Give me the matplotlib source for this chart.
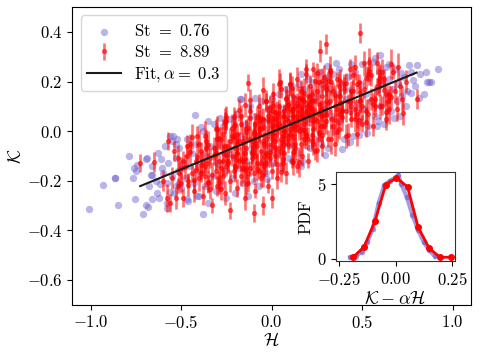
import matplotlib
matplotlib.use("Agg")
import matplotlib.pyplot as plt
import numpy as np

plt.rcParams.update({
    "font.family": "serif",
    "font.serif": ["cmr10"],
    "mathtext.fontset": "cm",
    "axes.formatter.use_mathtext": True,
    "axes.unicode_minus": True,
    "font.size": 12,
})

# ---- St = 0.76 (blue scatter) ----
blue_H = [
    -1.01, -0.93, -0.864, -0.85, -0.787, -0.754, -0.768, -0.76, -0.75, -0.708,
    -0.695, -0.685, -0.662, -0.695, -0.666, -0.634, -0.616, -0.61, -0.607, -0.58,
    -0.578, -0.56, -0.55, -0.524, -0.469, -0.40, -0.377, -0.426, -0.53, -0.51,
    0.921, 0.87, 0.86, 0.816, 0.77, 0.76, 0.80, 0.78, 0.72, 0.74,
    0.715, 0.675, 0.647, 0.60, 0.57, 0.58, 0.585, 0.527, 0.48, 0.43,
    0.386, 0.353, 0.44, 0.305, 0.164, 0.292, 0.164, -0.167, -0.094, -0.026,
    0.11, -0.69, -0.746, -0.66, -0.866, -0.176, -0.287, -0.35, -0.39, -0.545,
    -0.53,
    -0.68, -0.66, -0.64, -0.63, -0.62, -0.60, -0.59, -0.58, -0.57, -0.56,
    -0.55, -0.54, -0.53, -0.52, -0.51, -0.50, -0.49, -0.48, -0.47, -0.46,
    -0.45, -0.44, -0.43, -0.42, -0.41, -0.40, -0.39, -0.38, -0.37, -0.36,
    -0.35, -0.34, -0.33, -0.32, -0.31, -0.30, -0.29, -0.28, -0.27, -0.26,
    -0.25, -0.24, -0.23, -0.22, -0.21, -0.20, -0.19, -0.18, -0.17, -0.16,
    -0.15, -0.14, -0.13, -0.12, -0.11, -0.10, -0.09, -0.08, -0.07, -0.06,
    -0.05, -0.04, -0.03, -0.02, -0.01, 0.00, 0.01, 0.02, 0.03, 0.04,
    0.05, 0.06, 0.07, 0.08, 0.09, 0.10, 0.11, 0.12, 0.13, 0.14,
    0.15, 0.16, 0.17, 0.18, 0.19, 0.20, 0.21, 0.22, 0.23, 0.24,
    0.25, 0.26, 0.27, 0.28, 0.29, 0.30, 0.31, 0.32, 0.33, 0.34,
    0.35, 0.36, 0.37, 0.38, 0.39, 0.40, 0.41, 0.42, 0.43, 0.44,
    0.45, 0.46, 0.47, 0.48, 0.49, 0.50, 0.51, 0.52, 0.53, 0.54,
    0.55, 0.56, 0.57, 0.58, 0.59, 0.60, 0.61, 0.62, 0.63, 0.64,
    0.65, 0.66, 0.67, 0.68, 0.69, 0.70, 0.71, 0.73, 0.75, 0.77,
    0.79, 0.82, 0.84, 0.85, 0.88,
]
blue_K = [
    -0.316, -0.219, -0.191, -0.30, -0.10, -0.273, -0.188, -0.149, -0.16, -0.333,
    -0.30, -0.305, -0.272, -0.111, -0.179, -0.249, -0.215, -0.114, -0.148, -0.29,
    -0.31, -0.246, -0.04, -0.03, -0.275, -0.262, -0.336, 0.065, -0.22, -0.21,
    0.252, 0.198, 0.198, 0.135, 0.155, 0.265, 0.265, 0.206, 0.14, 0.10,
    0.233, 0.051, 0.269, 0.306, 0.295, 0.02, 0.04, -0.006, -0.016, -0.044,
    -0.074, 0.276, 0.269, 0.262, 0.229, -0.098, -0.141, 0.128, 0.135, -0.192,
    -0.12, -0.11, -0.138, -0.175, -0.188, 0.128, 0.054, 0.04, 0.015, -0.02,
    -0.05,
    -0.22, -0.14, -0.20, -0.09, -0.27, -0.17, -0.06, -0.21, -0.13, -0.02,
    -0.18, -0.25, -0.11, -0.16, -0.07, -0.23, -0.13, -0.19, -0.03, -0.28,
    -0.14, -0.09, -0.21, -0.05, -0.26, -0.12, -0.17, 0.00, -0.22, -0.10,
    -0.29, -0.06, -0.18, 0.03, -0.24, -0.13, -0.05, -0.22, 0.02, -0.16,
    -0.27, -0.09, 0.05, -0.19, -0.11, -0.25, 0.07, -0.15, -0.02, -0.21,
    0.03, -0.12, -0.26, 0.10, -0.08, -0.20, 0.06, -0.03, -0.22, 0.12,
    -0.12, 0.04, -0.17, 0.09, -0.07, 0.13, -0.13, 0.02, -0.09, 0.15,
    -0.15, 0.09, -0.05, 0.17, -0.11, 0.05, 0.18, -0.06, 0.13, -0.09,
    0.19, 0.01, -0.12, 0.17, 0.05, 0.21, -0.07, 0.12, 0.20, -0.03,
    0.14, 0.24, -0.05, 0.19, 0.09, 0.22, -0.07, 0.17, 0.06, 0.23,
    0.00, 0.15, 0.25, 0.04, 0.19, -0.03, 0.13, 0.22, 0.08, 0.17,
    -0.02, 0.24, 0.11, 0.04, 0.19, 0.27, 0.09, 0.15, 0.02, 0.22,
    0.12, 0.28, 0.06, 0.16, 0.24, 0.10, 0.19, 0.03, 0.26, 0.14,
    0.21, 0.08, 0.17, 0.25, 0.12, 0.19, 0.06, 0.22, 0.16, 0.24,
    0.18, 0.23, 0.15, 0.24, 0.20,
]

# ---- St = 8.89 (red points with error bars) ----
red_H = [
    -0.56, -0.54, -0.52, -0.50, -0.49, -0.47, -0.46, -0.45, -0.44, -0.43,
    -0.42, -0.41, -0.40, -0.39, -0.38, -0.37, -0.36, -0.35, -0.34, -0.33,
    -0.32, -0.31, -0.30, -0.30, -0.29, -0.28, -0.27, -0.27, -0.26, -0.25,
    -0.25, -0.24, -0.23, -0.23, -0.22, -0.21, -0.21, -0.20, -0.19, -0.19,
    -0.18, -0.17, -0.17, -0.16, -0.15, -0.15, -0.14, -0.14, -0.13, -0.12,
    -0.12, -0.11, -0.10, -0.10, -0.09, -0.09, -0.08, -0.07, -0.07, -0.06,
    -0.06, -0.05, -0.05, -0.04, -0.03, -0.03, -0.02, -0.02, -0.01, -0.01,
    0.00, 0.00, 0.00, 0.01, 0.01, 0.02, 0.02, 0.03, 0.03, 0.04,
    0.04, 0.05, 0.05, 0.06, 0.06, 0.07, 0.07, 0.08, 0.08, 0.09,
    0.09, 0.10, 0.10, 0.11, 0.11, 0.12, 0.12, 0.13, 0.13, 0.14,
    0.14, 0.15, 0.15, 0.16, 0.16, 0.17, 0.17, 0.18, 0.18, 0.19,
    0.19, 0.20, 0.20, 0.21, 0.21, 0.22, 0.22, 0.23, 0.23, 0.24,
    0.24, 0.25, 0.25, 0.26, 0.26, 0.27, 0.28, 0.28, 0.29, 0.30,
    0.30, 0.31, 0.32, 0.32, 0.33, 0.34, 0.35, 0.35, 0.36, 0.37,
    0.38, 0.39, 0.40, 0.41, 0.42, 0.43, 0.44, 0.45, 0.46, 0.47,
    0.48, 0.49, 0.50, 0.51, 0.52, 0.53, 0.55, 0.56, 0.58, 0.60,
    0.62, 0.63, 0.65, 0.67, 0.69, 0.71, -0.28, -0.26, -0.24, -0.22,
    -0.20, -0.18, -0.16, -0.14, -0.12, -0.10, -0.08, -0.06, -0.04, -0.02,
    0.00, 0.02, 0.04, 0.06, 0.08, 0.10, 0.12, 0.14, 0.16, 0.18,
    0.20, 0.22, 0.24, 0.26, 0.28, 0.30, -0.35, -0.31, -0.29, -0.19,
    -0.11, -0.09, -0.07, -0.03, 0.01, 0.03, 0.05, 0.07, 0.09, 0.11,
    0.13, 0.15, 0.17, 0.19, 0.21, 0.23, -0.726, -0.649, -0.574, -0.60,
    -0.13, 0.044, 0.188, 0.268, 0.30, 0.489, 0.724, 0.80, -0.10, -0.05,
    0.00,
    -0.45, -0.33, -0.21, -0.09, 0.03, 0.15, 0.27, 0.39, 0.51, 0.63,
    -0.43, -0.31, -0.19, -0.07, 0.05, 0.17, 0.29, 0.41, 0.53, 0.02,
    -0.41, -0.29, -0.17, -0.05, 0.07, 0.19, 0.31, 0.43, 0.55, -0.02,
    -0.39, -0.27, -0.15, -0.03, 0.09, 0.21, 0.33, 0.45, 0.57, 0.10,
    -0.37, -0.25, -0.13, -0.01, 0.11, 0.23, 0.35, 0.47, 0.59, -0.08,
    -0.35, -0.23, -0.11, 0.01, 0.13, 0.25, 0.37, 0.49, 0.61, 0.18,
    -0.44, -0.32, -0.20, -0.08, 0.04, 0.16, 0.28, 0.40, 0.52, -0.14,
    -0.42, -0.30, -0.18, -0.06, 0.06, 0.18, 0.30, 0.42, 0.54, 0.00,
    -0.40, -0.28, -0.16, -0.04, 0.08, 0.20, 0.32, 0.44, 0.56, 0.12,
    -0.38, -0.26, -0.14, -0.02, 0.10, 0.22, 0.34, 0.46, 0.58, -0.20,
    -0.36, -0.24, -0.12, 0.00, 0.12, 0.24, 0.36, 0.48, 0.60, 0.26,
    -0.34, -0.22, -0.10, 0.02, 0.14, 0.26, 0.38, 0.50, 0.62, -0.26,
    -0.48, -0.12, -0.04, 0.04, 0.12, 0.20, 0.28, 0.36, 0.44, 0.52,
    -0.46, -0.16, -0.06, 0.06, 0.14, 0.22, 0.30, 0.38, 0.46, 0.66,
    -0.05, 0.05, -0.15, 0.15, -0.25, 0.25, -0.35, 0.35, -0.01, 0.09,
    -0.11, 0.19, -0.21, 0.29, -0.31, 0.39, 0.07, -0.03, 0.13, 0.33,
    -0.07, 0.03, 0.11, -0.17, 0.23, -0.27, 0.31, 0.41, -0.37, 0.49,
    0.08, -0.09, 0.17, -0.19, 0.27, -0.29, 0.37, -0.39, 0.47, -0.13,
    0.64, 0.66, 0.68, 0.70, 0.72, 0.74, -0.50, -0.52, -0.55, -0.58,
    0.54, 0.57, 0.61, 0.65, -0.47, -0.49, -0.51, -0.53, 0.59, 0.63,
]
red_K = [
    -0.29, -0.08, -0.22, -0.15, -0.27, -0.10, -0.20, -0.05, -0.17, -0.24,
    -0.12, -0.02, -0.19, -0.08, -0.26, -0.14, -0.04, -0.21, -0.11, -0.30,
    -0.07, -0.16, 0.01, -0.22, -0.12, -0.03, -0.18, -0.09, -0.25, 0.04,
    -0.14, -0.06, -0.20, -0.32, -0.10, 0.02, -0.16, -0.07, -0.23, -0.01,
    -0.12, 0.06, -0.18, -0.05, -0.27, -0.09, 0.01, -0.15, -0.21, -0.03,
    0.08, -0.11, -0.17, -0.06, 0.03, -0.24, -0.13, -0.01, 0.10, -0.08,
    -0.19, 0.05, -0.04, -0.14, 0.12, -0.09, -0.02, -0.22, 0.04, -0.11,
    0.08, -0.05, -0.16, 0.15, -0.01, -0.10, 0.05, -0.19, 0.01, 0.10,
    -0.07, 0.17, -0.03, -0.13, 0.06, 0.00, -0.09, 0.13, -0.17, 0.04,
    -0.05, 0.09, 0.19, -0.02, -0.12, 0.06, 0.14, -0.07, 0.02, 0.21,
    -0.14, 0.10, 0.00, 0.16, -0.05, 0.07, -0.10, 0.12, 0.03, 0.23,
    -0.02, 0.14, -0.12, 0.06, 0.18, -0.04, 0.09, 0.01, 0.25, 0.12,
    -0.08, 0.16, 0.04, -0.01, 0.20, 0.09, -0.06, 0.14, 0.02, 0.18,
    0.07, -0.03, 0.12, 0.24, 0.05, 0.16, -0.05, 0.10, 0.21, 0.01,
    0.14, 0.08, 0.19, -0.02, 0.12, 0.25, 0.05, 0.16, 0.09, -0.01,
    0.20, 0.12, 0.03, 0.17, 0.08, 0.23, 0.13, 0.02, 0.18, 0.10,
    0.21, 0.05, 0.15, 0.24, 0.09, 0.18, -0.15, -0.06, -0.13, -0.02,
    -0.14, -0.04, -0.12, -0.07, -0.15, 0.00, -0.06, 0.01, -0.05, 0.06,
    -0.01, -0.04, 0.03, -0.02, 0.05, 0.01, 0.09, 0.04, 0.08, -0.03,
    0.07, 0.15, 0.05, 0.11, 0.06, 0.12, -0.13, -0.09, -0.19, -0.09,
    -0.04, -0.10, -0.16, -0.03, 0.03, 0.07, 0.02, 0.08, 0.11, 0.03,
    0.10, 0.05, 0.13, 0.08, 0.11, 0.07, -0.128, -0.125, -0.04, -0.20,
    0.195, 0.199, 0.249, 0.323, 0.35, 0.397, 0.074, 0.13, -0.33, -0.30,
    -0.27,
    -0.085, -0.179, 0.057, -0.047, -0.131, 0.135, 0.081, 0.057, 0.273, 0.079,
    -0.199, 0.007, -0.087, 0.039, -0.085, 0.061, 0.217, 0.083, 0.069, 0.076,
    -0.103, -0.207, 0.029, -0.175, 0.061, -0.013, 0.203, 0.119, 0.225, -0.096,
    -0.167, -0.011, -0.155, 0.121, -0.033, 0.093, -0.031, 0.225, 0.131, 0.19,
    -0.021, -0.095, 0.011, -0.083, 0.173, -0.051, 0.145, 0.071, 0.197, -0.154,
    -0.205, -0.039, -0.093, 0.103, 0.009, -0.075, 0.181, 0.157, 0.103, 0.004,
    -0.022, -0.096, -0.15, 0.056, 0.192, 0.008, -0.016, 0.17, 0.036, -0.002,
    -0.156, -0.03, 0.086, -0.128, -0.052, 0.154, 0.04, -0.014, 0.242, 0.02,
    -0.05, -0.234, -0.038, 0.018, 0.134, -0.03, 0.246, 0.162, 0.108, 0.026,
    -0.124, 0.042, -0.212, 0.044, -0.01, 0.126, 0.022, 0.258, 0.274, 0.03,
    -0.068, -0.122, 0.054, -0.03, -0.084, 0.202, 0.088, 0.044, 0.22, -0.002,
    -0.232, 0.014, -0.01, -0.064, 0.112, 0.068, 0.204, 0.1, 0.166, 0.032,
    -0.144, 0.124, -0.102, 0.072, -0.124, 0.1, 0.204, -0.002, 0.102, 0.216,
    -0.218, -0.148, 0.052, -0.112, 0.062, -0.014, 0.17, 0.114, 0.048, 0.138,
    0.165, -0.165, 0.105, -0.125, 0.055, 0.235, -0.055, 0.045, 0.097, 0.107,
    -0.083, 0.077, -0.023, 0.067, -0.093, 0.087, 0.001, -0.129, -0.051, 0.199,
    0.009, 0.019, 0.083, -0.111, 0.039, -0.121, 0.113, 0.193, -0.181, 0.127,
    -0.016, -0.007, 0.131, -0.047, 0.021, -0.027, 0.071, -0.137, 0.191, -0.169,
    0.12, 0.27, 0.16, 0.26, 0.13, 0.20, -0.21, -0.11, -0.19, -0.27,
    0.28, 0.10, 0.24, 0.09, -0.06, -0.12, -0.17, -0.27, 0.21, 0.15,
]
red_err = [
    0.035, 0.040, 0.030, 0.045, 0.035, 0.050, 0.030, 0.040, 0.035, 0.045,
    0.030, 0.040, 0.050, 0.035, 0.040, 0.030, 0.045, 0.035, 0.040, 0.030,
    0.045, 0.035, 0.050, 0.040, 0.030, 0.045, 0.035, 0.040, 0.050, 0.035,
    0.040, 0.030, 0.045, 0.035, 0.040, 0.050, 0.030, 0.045, 0.035, 0.040,
    0.030, 0.045, 0.040, 0.035, 0.050, 0.030, 0.040, 0.045, 0.035, 0.040,
    0.030, 0.050, 0.035, 0.040, 0.045, 0.030, 0.040, 0.035, 0.050, 0.040,
    0.035, 0.045, 0.030, 0.040, 0.035, 0.050, 0.040, 0.030, 0.045, 0.035,
    0.040, 0.050, 0.035, 0.045, 0.030, 0.040, 0.035, 0.045, 0.050, 0.030,
    0.040, 0.035, 0.045, 0.040, 0.030, 0.050, 0.035, 0.040, 0.045, 0.030,
    0.040, 0.035, 0.050, 0.045, 0.030, 0.040, 0.035, 0.045, 0.040, 0.050,
    0.030, 0.040, 0.035, 0.045, 0.050, 0.030, 0.040, 0.035, 0.045, 0.040,
    0.035, 0.050, 0.030, 0.040, 0.045, 0.035, 0.040, 0.050, 0.030, 0.045,
    0.035, 0.040, 0.045, 0.030, 0.050, 0.035, 0.040, 0.045, 0.030, 0.040,
    0.050, 0.035, 0.045, 0.030, 0.040, 0.035, 0.050, 0.045, 0.030, 0.040,
    0.035, 0.045, 0.040, 0.050, 0.030, 0.040, 0.035, 0.045, 0.040, 0.050,
    0.030, 0.045, 0.035, 0.040, 0.050, 0.030, 0.045, 0.040, 0.035, 0.050,
    0.040, 0.045, 0.035, 0.030, 0.050, 0.040, 0.035, 0.045, 0.040, 0.030,
    0.050, 0.035, 0.040, 0.045, 0.030, 0.040, 0.050, 0.035, 0.045, 0.040,
    0.030, 0.045, 0.040, 0.035, 0.050, 0.030, 0.040, 0.045, 0.035, 0.040,
    0.050, 0.030, 0.045, 0.040, 0.035, 0.045, 0.040, 0.030, 0.050, 0.035,
    0.040, 0.045, 0.030, 0.040, 0.035, 0.050, 0.045, 0.030, 0.040, 0.035,
    0.045, 0.040, 0.050, 0.030, 0.040, 0.035, 0.035, 0.040, 0.035, 0.040,
    0.035, 0.035, 0.040, 0.045, 0.040, 0.040, 0.050, 0.040, 0.035, 0.040,
    0.040,
    0.045, 0.055, 0.040, 0.050, 0.060, 0.045, 0.040, 0.055, 0.050, 0.045,
    0.050, 0.040, 0.060, 0.045, 0.055, 0.040, 0.050, 0.045, 0.060, 0.040,
    0.055, 0.045, 0.040, 0.050, 0.045, 0.060, 0.040, 0.055, 0.045, 0.050,
    0.040, 0.060, 0.050, 0.045, 0.040, 0.055, 0.060, 0.040, 0.050, 0.045,
    0.060, 0.045, 0.055, 0.040, 0.050, 0.045, 0.040, 0.060, 0.055, 0.045,
    0.045, 0.050, 0.040, 0.060, 0.045, 0.050, 0.055, 0.045, 0.040, 0.060,
    0.050, 0.040, 0.055, 0.045, 0.060, 0.040, 0.045, 0.050, 0.060, 0.045,
    0.040, 0.055, 0.045, 0.050, 0.040, 0.060, 0.050, 0.045, 0.055, 0.040,
    0.055, 0.045, 0.060, 0.040, 0.050, 0.045, 0.055, 0.040, 0.045, 0.060,
    0.045, 0.050, 0.040, 0.055, 0.060, 0.045, 0.040, 0.050, 0.045, 0.055,
    0.060, 0.040, 0.050, 0.045, 0.055, 0.040, 0.060, 0.045, 0.050, 0.040,
    0.040, 0.055, 0.045, 0.060, 0.040, 0.050, 0.045, 0.055, 0.060, 0.045,
    0.050, 0.045, 0.060, 0.040, 0.055, 0.045, 0.050, 0.040, 0.060, 0.045,
    0.045, 0.060, 0.040, 0.050, 0.045, 0.055, 0.040, 0.060, 0.050, 0.045,
    0.055, 0.040, 0.050, 0.060, 0.045, 0.040, 0.055, 0.045, 0.050, 0.060,
    0.040, 0.050, 0.045, 0.055, 0.060, 0.040, 0.045, 0.050, 0.040, 0.055,
    0.060, 0.045, 0.040, 0.050, 0.045, 0.060, 0.055, 0.040, 0.045, 0.050,
    0.045, 0.055, 0.050, 0.040, 0.060, 0.045, 0.050, 0.055, 0.040, 0.045,
    0.050, 0.060, 0.045, 0.055, 0.050, 0.045, 0.040, 0.050, 0.045, 0.055,
    0.055, 0.045, 0.050, 0.060, 0.045, 0.040, 0.050, 0.045, 0.055, 0.050,
]

alpha_fit = 0.3
fit_intercept = -0.004

# ---- inset PDFs ----
pdf_blue_x = [-0.20, -0.175, -0.15, -0.125, -0.10, -0.075, -0.05, -0.025, 0.0,
              0.0125, 0.025, 0.05, 0.075, 0.10, 0.125, 0.15, 0.175]
pdf_blue_y = [0.1, 0.2, 0.45, 1.1, 2.0, 3.7, 4.9, 5.2, 5.4, 5.6, 5.0, 4.1, 2.9,
              1.9, 1.1, 0.55, 0.15]
pdf_red_x = [-0.187, -0.139, -0.091, -0.043, 0.004, 0.053, 0.100, 0.149, 0.196, 0.245]
pdf_red_y = [0.1, 0.8, 2.5, 4.95, 5.4, 4.8, 2.1, 0.7, 0.1, 0.1]

assert len(blue_H) == len(blue_K)
assert len(red_H) == len(red_K) == len(red_err), (len(red_H), len(red_K), len(red_err))

fig = plt.figure(figsize=(4.8, 3.58), dpi=100)
ax = fig.add_axes([0.151, 0.149, 0.830, 0.831])

h_blue = ax.scatter(blue_H, blue_K, s=28, color="slateblue", alpha=0.45,
                    linewidths=0, zorder=2)
h_red = ax.errorbar(red_H, red_K, yerr=red_err, fmt="o", color="red",
                    markersize=2.8, elinewidth=1.9, alpha=0.55, zorder=3)
xf = np.linspace(min(red_H), max(red_H), 50)
h_fit, = ax.plot(xf, alpha_fit * xf + fit_intercept, color="#1a1a1a", lw=1.5,
                 zorder=4)

ax.set_xlim(-1.1, 1.1)
ax.set_ylim(-0.7, 0.5)
ax.set_xticks([-1.0, -0.5, 0.0, 0.5, 1.0])
ax.set_yticks([-0.6, -0.4, -0.2, 0.0, 0.2, 0.4])
ax.set_xlabel(r"$\mathcal{H}$", fontsize=13, labelpad=0)
ax.set_ylabel(r"$\mathcal{K}$", fontsize=13, labelpad=2)
ax.tick_params(labelsize=12)
ax.legend([h_blue, h_red, h_fit],
          [r"St $=$ 0.76", r"St $=$ 8.89", r"$\mathrm{Fit}, \alpha =\ 0.3$"],
          loc="upper left", fontsize=12, handlelength=2.0, borderpad=0.4,
          labelspacing=0.3)

ins = fig.add_axes([0.700, 0.271, 0.248, 0.249])
ins.plot(pdf_blue_x, pdf_blue_y, "-o", color="slateblue", alpha=0.6, lw=3,
         markersize=4, markeredgewidth=0)
ins.plot(pdf_red_x, pdf_red_y, "-o", color="red", lw=2, markersize=4)
ins.set_xlim(-0.263, 0.263)
ins.set_ylim(-0.15, 5.8)
ins.set_xticks([-0.25, 0.0, 0.25])
ins.set_yticks([0, 5])
ins.tick_params(labelsize=12)
ins.set_xlabel(r"$\mathcal{K}-\alpha\mathcal{H}$", fontsize=13, labelpad=1)
ins.set_ylabel("PDF", fontsize=12, labelpad=2)
for s in ins.spines.values():
    s.set_color("#333333")

fig.savefig("out.png", dpi=100)
